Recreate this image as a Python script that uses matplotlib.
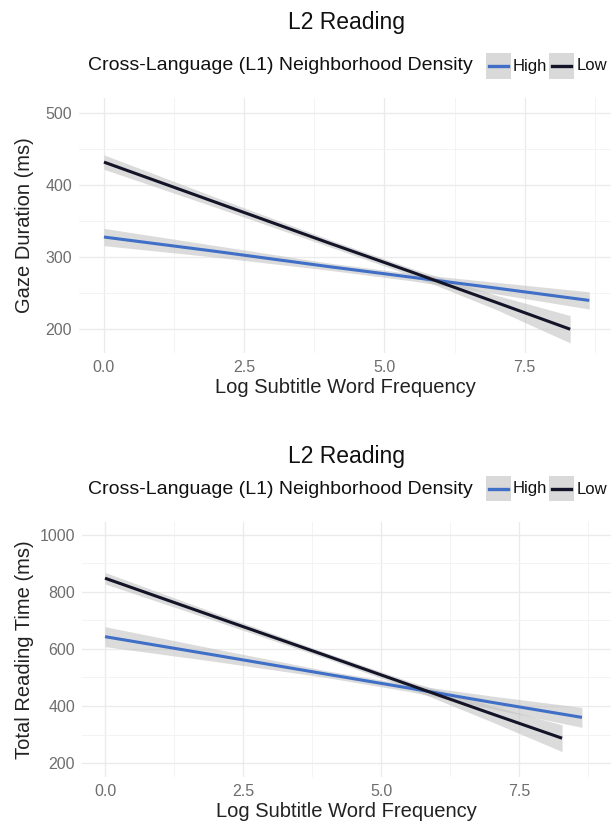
import matplotlib
matplotlib.use("Agg")
import matplotlib.pyplot as plt
from matplotlib.patches import Rectangle
from matplotlib.lines import Line2D

plt.rcParams['font.family'] = ['Liberation Sans', 'DejaVu Sans']

# ---- data ----
title = "L2 Reading"
legend_title = "Cross-Language (L1) Neighborhood Density"
groups = ["High", "Low"]
colors = {"High": "#3F6FC6", "Low": "#141428"}
x_label = "Log Subtitle Word Frequency"

# panel 1: gaze duration
gd_x_high = [0, 2, 4, 5.5, 7, 8.65]
gd_y_high = [328, 308, 287, 272, 257, 240]
gd_lo_high = [316, 300, 282, 267, 249, 228]
gd_hi_high = [340, 316, 292, 277, 265, 252]
gd_x_low = [0, 2, 4, 5.5, 7, 8.31]
gd_y_low = [432, 376, 320, 279, 237, 200]
gd_lo_low = [422, 369, 315, 274, 227, 181]
gd_hi_low = [442, 383, 325, 284, 247, 219]

# panel 2: total reading time
tr_x_high = [0, 2, 4, 5.5, 7, 8.64]
tr_y_high = [643, 578, 512, 463, 413, 360]
tr_lo_high = [608, 556, 500, 451, 391, 325]
tr_hi_high = [678, 600, 524, 475, 435, 395]
tr_x_low = [0, 2, 4, 5.5, 7, 8.28]
tr_y_low = [848, 712, 577, 475, 373, 287]
tr_lo_low = [828, 698, 567, 463, 345, 240]
tr_hi_low = [868, 726, 587, 487, 401, 334]

xticks = [0.0, 2.5, 5.0, 7.5]
xtick_labels = ["0.0", "2.5", "5.0", "7.5"]
gd_yticks = [200, 300, 400, 500]
tr_yticks = [200, 400, 600, 800, 1000]

W, H = 611, 827
fig = plt.figure(figsize=(W / 100, H / 100), dpi=100)

def px(x, y):
    return x / W, 1 - y / H

def make_panel(rect, xlim, ylim, yticks, ylabel, series, title_y, leg_y, minor_y):
    ax = fig.add_axes(rect)
    ax.set_xlim(*xlim)
    ax.set_ylim(*ylim)
    ax.set_facecolor("white")
    for s in ax.spines.values():
        s.set_visible(False)
    ax.set_xticks(xticks)
    ax.set_xticklabels(xtick_labels)
    ax.set_yticks(yticks)
    ax.set_xticks([1.25, 3.75, 6.25, 8.75], minor=True)
    ax.set_yticks(minor_y, minor=True)
    ax.grid(True, which="major", color="#EBEBEB", lw=1.0)
    ax.grid(True, which="minor", color="#F3F3F3", lw=0.7)
    ax.set_axisbelow(True)
    ax.tick_params(which="both", length=0)
    ax.tick_params(axis="both", labelsize=11.5, labelcolor="#6E6E6E", pad=5)
    ax.set_xlabel(x_label, fontsize=14.5, color="#222222", labelpad=2)
    ax.set_ylabel(ylabel, fontsize=14.5, color="#222222")
    left_px = rect[0] * W
    width_px = rect[2] * W
    ax.yaxis.set_label_coords((34 - left_px) / width_px, 0.5)
    for g, (xs, ys, lo, hi) in series.items():
        ax.fill_between(xs, lo, hi, color="#BEBEBE", alpha=0.55, lw=0)
    for g, (xs, ys, lo, hi) in series.items():
        ax.plot(xs, ys, color=colors[g], lw=2.2, solid_capstyle="butt")
    # title
    fig.text(347 / W, 1 - title_y / H, title, ha="center", va="center",
             fontsize=16.5, color="#111111")
    # legend
    fig.text(88 / W, 1 - leg_y / H, legend_title, ha="left", va="center",
             fontsize=14, color="#111111")
    key_x = [486, 549]
    text_x = [513, 577]
    for g, kx, tx in zip(groups, key_x, text_x):
        kx0, ky0 = px(kx, leg_y + 12.5)
        fig.patches.append(Rectangle((kx0, ky0), 25 / W, 25 / H,
                                     transform=fig.transFigure,
                                     facecolor="#D9D9D9", edgecolor="none"))
        fig.lines.append(Line2D([(kx + 3) / W, (kx + 22) / W],
                                [1 - leg_y / H, 1 - leg_y / H],
                                transform=fig.transFigure,
                                color=colors[g], lw=2.4))
        fig.text(tx / W, 1 - leg_y / H, g, ha="left", va="center",
                 fontsize=12, color="#111111")
    return ax

# top panel: pixel layout left 79, top 98, bottom 353, x0 at 104 (56.1 px/unit)
ax1 = make_panel(
    [79 / W, 1 - 353 / H, (W - 79) / W, 255 / H],
    (-0.445, (W - 104) / 56.1), (167, 521), gd_yticks, "Gaze Duration (ms)",
    {"High": (gd_x_high, gd_y_high, gd_lo_high, gd_hi_high),
     "Low": (gd_x_low, gd_y_low, gd_lo_low, gd_hi_low)},
    22, 66, [250, 350, 450])

ax2 = make_panel(
    [82 / W, 1 - 777 / H, (W - 82) / W, 255 / H],
    (-0.417, (W - 105) / 55.2), (151, 1045), tr_yticks, "Total Reading Time (ms)",
    {"High": (tr_x_high, tr_y_high, tr_lo_high, tr_hi_high),
     "Low": (tr_x_low, tr_y_low, tr_lo_low, tr_hi_low)},
    456, 489, [300, 500, 700, 900])

fig.savefig("out.png", dpi=100, facecolor="white")
